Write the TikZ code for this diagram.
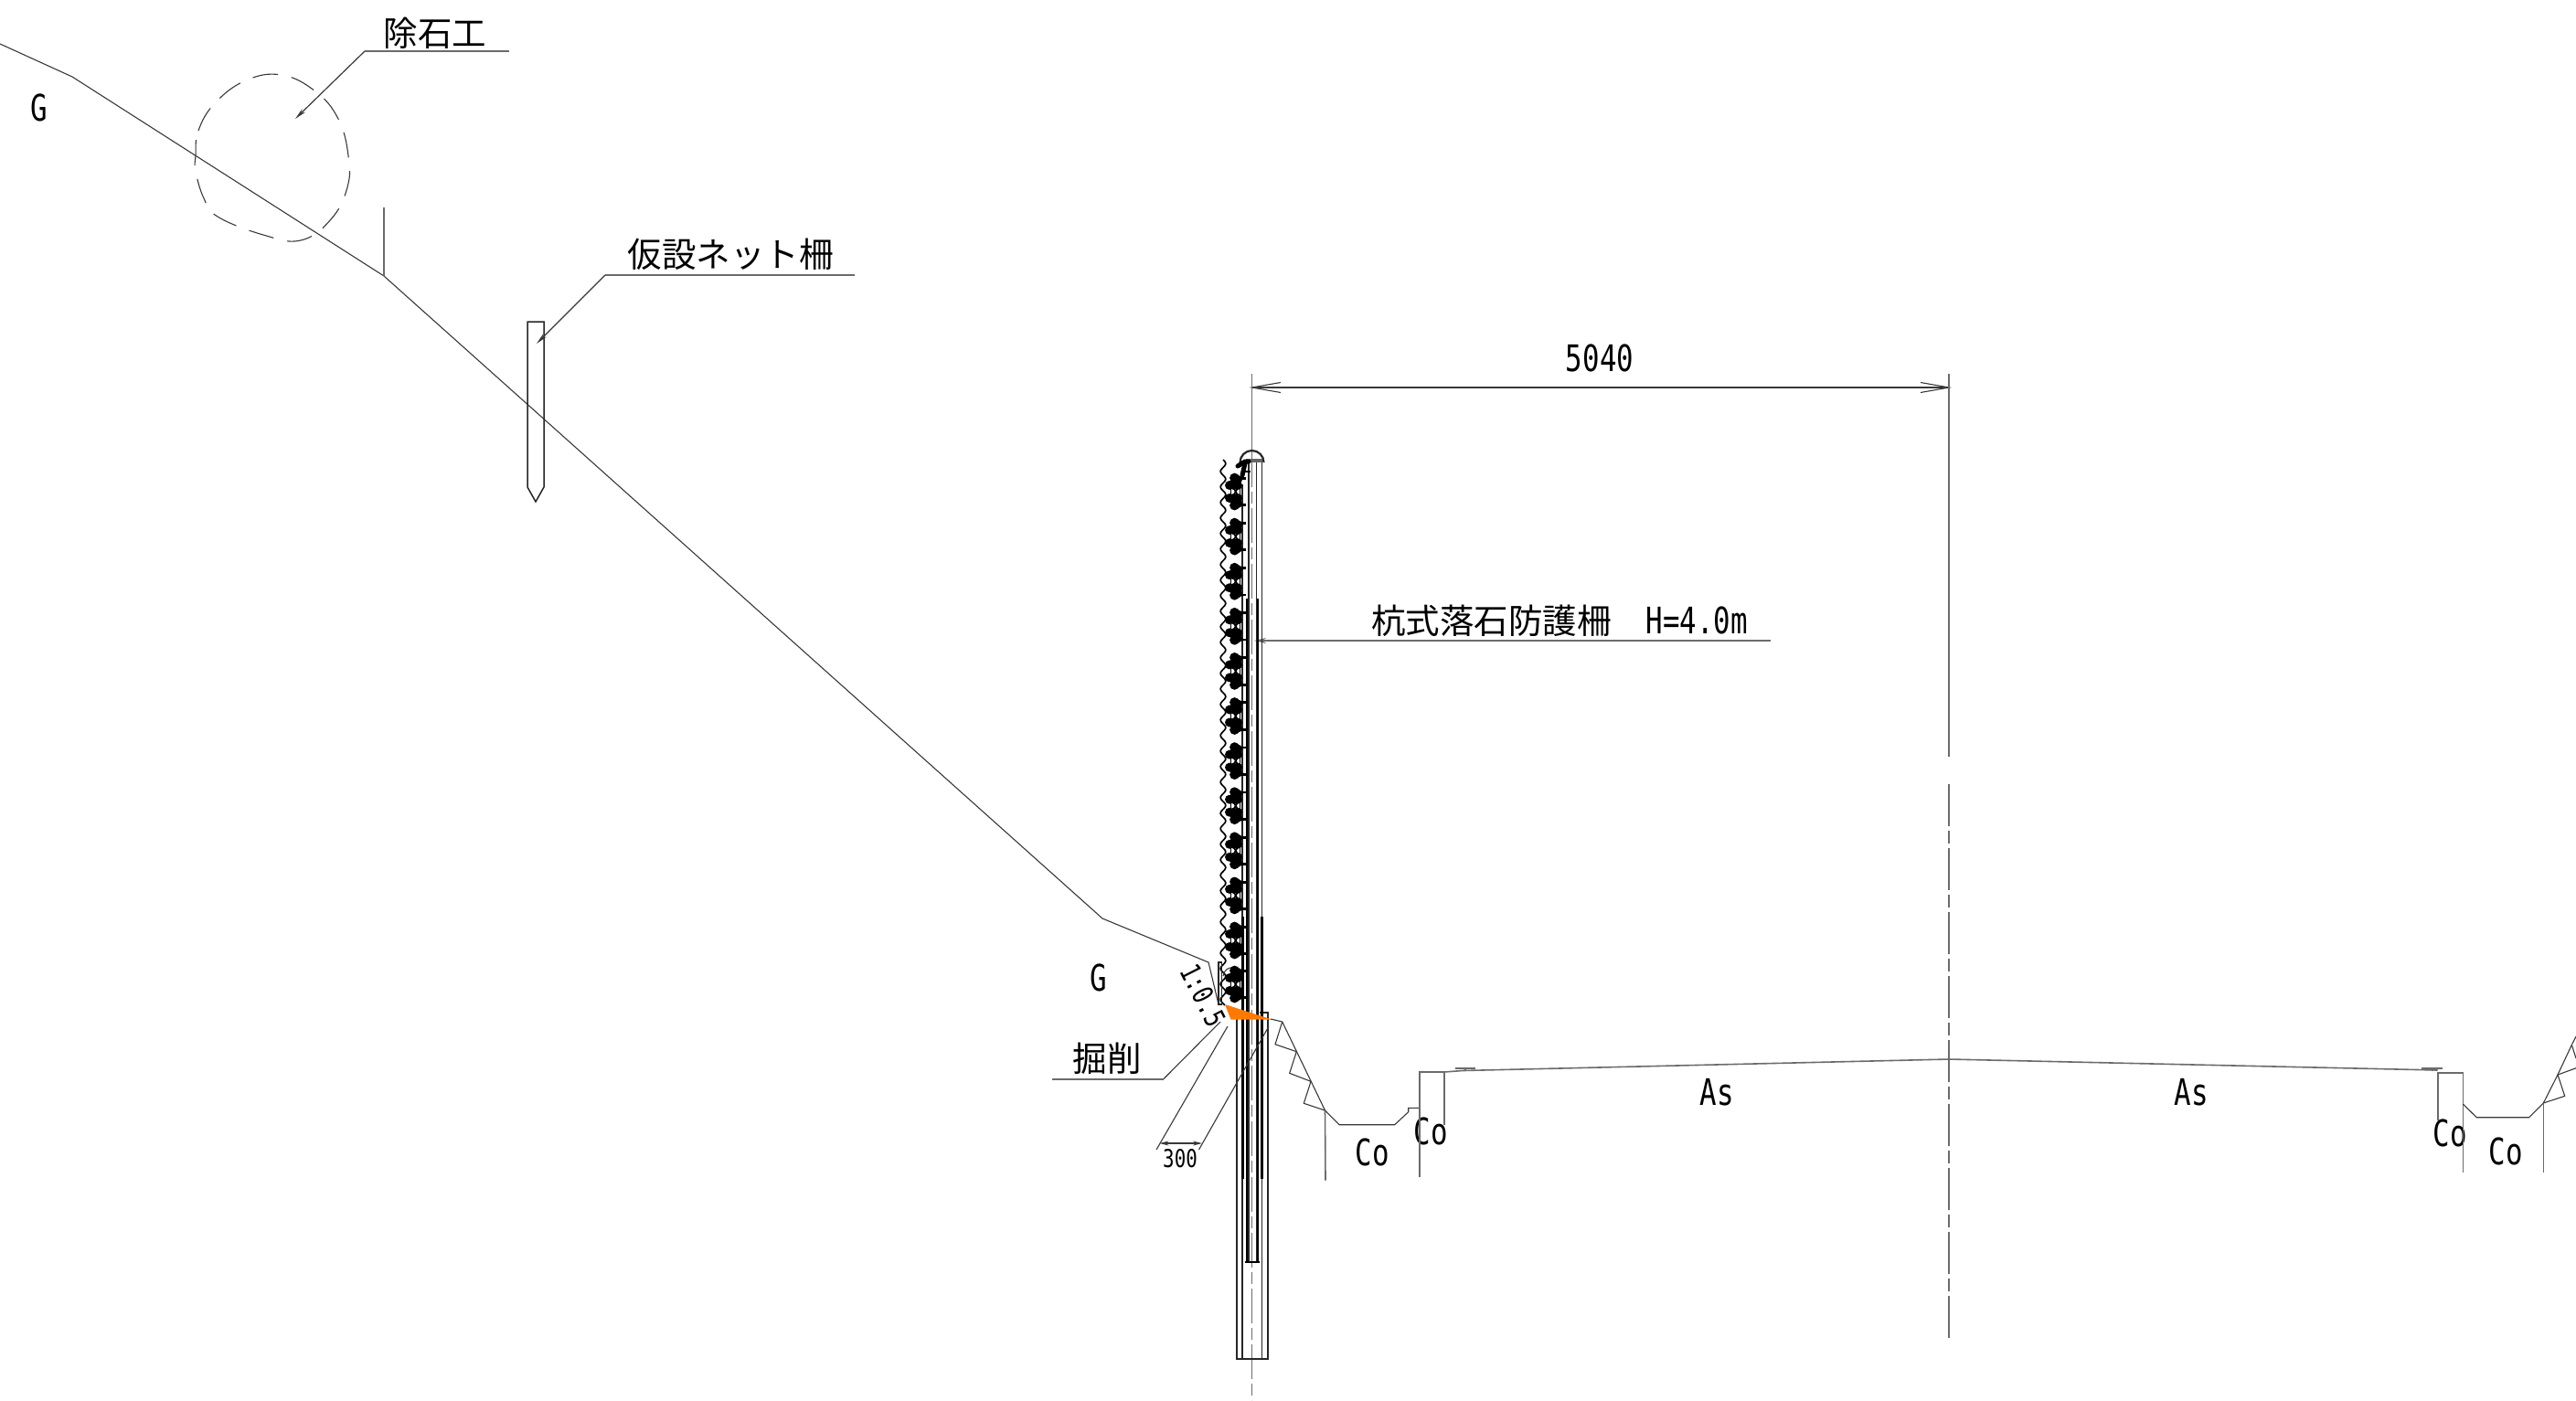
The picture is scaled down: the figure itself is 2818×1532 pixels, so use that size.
\documentclass[tikz,border=0pt]{standalone}
\usepackage{fontspec}
\usetikzlibrary{arrows.meta}
\newfontfamily\cjk{Noto Sans CJK JP}
\newfontfamily\lat[FakeStretch=0.77]{DejaVu Sans Mono}
\definecolor{lnk}{gray}{0.22}
\definecolor{lng}{gray}{0.42}
\tikzset{
  thin line/.style={draw=lnk,line width=1.1pt},
  mid line/.style={draw=black!85,line width=1.8pt},
  grey line/.style={draw=lng,line width=2pt},
  leader/.style={draw=lnk,line width=1.2pt,-{Stealth[length=13pt,width=5pt]}},
  center line/.style={draw=lng,line width=1.7pt,dash pattern=on 46pt off 5pt on 14pt off 5pt},
  jp/.style={inner sep=0pt,font=\cjk\fontsize{37.5}{37.5}\selectfont,text=black},
  la/.style={inner sep=0pt,font=\lat\fontsize{40}{40}\selectfont,text=black},
  dimsmall/.style={inner sep=0pt,font=\lat\fontsize{27}{27}\selectfont,text=black},
  blob/.style={fill=black,draw=none},
  heavy/.style={draw=black,line width=3pt}
}
\begin{document}
\begin{tikzpicture}[x=1pt,y=-1pt]
\useasboundingbox (0,0) rectangle (2818,1532);
% ---- named points
\coordinate (g0) at (0,48);
\coordinate (g1) at (79,84);
\coordinate (g2) at (420,302);
\coordinate (g3) at (1206,1005);
\coordinate (g4) at (1322,1053);
\coordinate (g5) at (1333,1099);
% ground
\draw[thin line] (g0) -- (g1) -- (g2) -- (g3) -- (g4) -- (g5);
\draw[grey line] (g2) -- (420,227);
% rock removal outline
\draw[thin line,dash pattern=on 28pt off 15pt] plot[smooth cycle,tension=0.7] coordinates {
 (214,170) (217,143) (235,113) (269,88) (308,82) (345,100) (370,130) (381,170)
 (380,205) (362,240) (329,263) (288,257) (238,237) (223,217) (214,187)};
% temporary post
\draw[mid line,line join=miter,line width=1.5pt] (577,352) -- (595,352) -- (595,533) -- (586,549) -- (577,533) -- cycle;
% labels and leaders
\node[jp] (t1) at (476,36) {除石工};
\coordinate (l1a) at (399,56); \coordinate (l1b) at (557,56); \coordinate (l1c) at (323,130);
\draw[grey line] (l1b) -- (l1a);
\draw[leader] (l1a) -- (l1c);
\node[jp] (t2) at (799,278) {仮設ネット柵};
\coordinate (l2a) at (662,301); \coordinate (l2b) at (935,301); \coordinate (l2c) at (587,376);
\draw[grey line] (l2b) -- (l2a);
\draw[leader] (l2a) -- (l2c);
\node[jp,anchor=west] (t3) at (1500,679) {杭式落石防護柵\hspace{38pt}{\lat\fontsize{40}{40}\selectfont H=4.0m}};
\coordinate (l3a) at (1937,701); \coordinate (l3b) at (1372,701);
\draw[grey line,-{Stealth[length=13pt,width=6pt]}] (l3a) -- (l3b);
\node[jp] (t4) at (1211,1158) {掘削};
\coordinate (l4a) at (1151,1180.5); \coordinate (l4b) at (1273,1180.5); \coordinate (l4c) at (1335,1118);
\draw[grey line] (l4a) -- (l4b);
\draw[thin line] (l4b) -- (l4c);
\node[la] (tg1) at (43,118) {G};
\node[la] (tg2) at (1202,1070) {G};
\node[la,rotate=-63,font=\lat\fontsize{31}{31}\selectfont] (tr) at (1316,1089) {1:0.5};
\node[la] (ta1) at (1878,1195) {As};
\node[la] (ta2) at (2397,1195) {As};
\node[la] (tc1) at (1501,1261) {Co};
\node[la] (tc2) at (1565,1238) {Co};
\node[la] (tc3) at (2680,1240) {Co};
\node[la] (tc4) at (2741,1260) {Co};
% dimension 5040
\node[la] (t5040) at (1750,392) {5040};
\coordinate (dl) at (1369.5,424); \coordinate (dr) at (2132,424);
\draw[thin line] (dl) -- (dr);
\draw[thin line] (1401,418.5) -- (dl) -- (1401,429.5);
\draw[thin line] (2101,418.5) -- (dr) -- (2101,429.5);
% road centre line
\draw[grey line,line width=1.5pt] (2132,409) -- (2132,828);
\draw[center line] (2132,858) -- (2132,1467);
% pole: centre line
\draw[grey line,line width=1.5pt] (1369.5,409) -- (1369.5,495);
\draw[center line,dash pattern=on 38pt off 5pt on 13pt off 5pt] (1369.5,495) -- (1369.5,1532);
% pole: casing and foundation
\draw[mid line] (1353,1115) -- (1353,1487) -- (1387,1487) -- (1387,1108) -- (1378,1108);
\draw[mid line] (1359.3,1487) -- (1359.3,530);
\draw[mid line] (1380.5,1487) -- (1380.5,505);
\draw[mid line] (1366,505) -- (1366,1381);
\draw[mid line] (1374.4,505) -- (1374.4,1381);
\draw[heavy,line width=2.6pt] (1364,655) -- (1364,1381) -- (1376,1381) -- (1376,655);
\draw[heavy,line width=2pt] (1362,1381) -- (1378,1381);
\draw[heavy,line width=2.4pt] (1359.3,1003) -- (1359.3,1290);
\draw[heavy] (1380.8,1003) -- (1380.8,1290);
% head
\draw[mid line,line width=2.2pt] (1356.5,506) arc[start angle=180,end angle=360,radius=13];
\draw[heavy,draw=black!60,line width=3.5pt] (1363,504) -- (1381,504);
\draw[black,line width=5pt,line cap=round] (1354,510) -- (1362,505) -- (1366,505);
\draw[black,line width=5pt,line cap=round] (1362,507) -- (1359,520);
\draw[black,line width=2.5pt] (1359,516) -- (1368,516);
% wire mesh
\draw[black,line width=1.7pt] plot[domain=0:597,samples=400,smooth] ({1338+2.8*sin(\x*21.176)},{503+\x});
\draw[thin line] (1338,1068) arc[start angle=190,end angle=370,x radius=9,y radius=11];
\draw[mid line,line width=1.1pt] (1333,1053) rectangle (1336.5,1099);
\foreach \c in {538,587.1,636.2,685.3,734.4,783.5,832.6,881.7,930.8,979.9,1029,1077}{
  \begin{scope}[shift={(1350.5,\c)}]
    \foreach \p/\r in {0/-15,0/-10,0/15,0/10,3/-13,3/13}{\fill[blob] (\p,\r) circle[radius=5.4];}
    \foreach \p/\r in {-5.5/-7,-5.5/7,-1/-7,-1/7,3.5/-7,3.5/7}{\fill[blob] (\p,\r) circle[radius=5];}
    \draw[black,line width=2.8pt] (0,-14.7) -- (12,-14.7) (0,14.7) -- (12,14.7);
    \draw[black,line width=1.8pt] (-1.5,-5) -- (4,5) (4,-5) -- (-1.5,5);
    \draw[black,line width=1.8pt] (-4,-5) -- (-4,5) (6,-14) -- (6,14);
  \end{scope}
}
% excavation wedge
\fill[orange!95!red] (1340,1099) -- (1346.5,1115.5) -- (1391,1115.5) -- cycle;
% small 300 dimension
\coordinate (e1a) at (1265,1258); \coordinate (e1b) at (1343,1123);
\coordinate (e2a) at (1311.5,1258); \coordinate (e2b) at (1388,1123);
\draw[thin line] (e1a) -- (e1b);
\draw[thin line] (e2a) -- (e2b);
\draw[thin line,{Stealth[length=10pt,width=5pt]}-{Stealth[length=10pt,width=5pt]}] (1268.5,1251) -- (1315,1251);
\node[dimsmall] (t300) at (1291,1268) {300};
% left ditch and slope
\coordinate (s0) at (1390,1115); \coordinate (s1) at (1402.7,1118);
\coordinate (s2) at (1418.3,1150.7); \coordinate (s3) at (1434,1183.3); \coordinate (s4) at (1449.5,1215);
\draw[thin line] (s0) -- (s1) -- (s4) -- (1465,1230.7) -- (1525.7,1230.7) -- (1540.7,1216.7) -- (1540.7,1212.3) -- (1552.7,1212.3);
\draw[thin line] (s1) -- (1395,1142.7) -- (s2) -- (1410.7,1174.3) -- (s3) -- (1426.3,1207.3) -- (s4);
\draw[grey line,line width=1.6pt] (s4) -- (1450,1291.5);
\draw[grey line,line width=1.6pt] (1552.7,1288) -- (1552.7,1173) -- (1580,1173) -- (1580,1231);
% pavement
\coordinate (crown) at (2132,1159);
\draw[grey line,line width=1.6pt] (1580,1173) -- (1600,1171.5) -- (crown) -- (2666.7,1171);
\draw[grey line,line width=2.4pt] (1592,1169) -- (1614,1169);
\draw[grey line,line width=2.4pt] (2649,1169) -- (2672,1169);
\draw[grey line,line width=1.5pt] (1603,1169) -- (1603,1172);
\draw[grey line,line width=1.5pt] (2661,1169) -- (2661,1172);
% right ditch and slope
\coordinate (r0) at (2782.3,1207); \coordinate (r1) at (2798,1176); \coordinate (r2) at (2813.3,1143.3);
\draw[grey line,line width=1.6pt] (2666.7,1226) -- (2666.7,1174) -- (2694.3,1174) -- (2694.3,1283);
\draw[thin line] (2694.3,1208) -- (2709.3,1222.7) -- (2766.7,1222.7) -- (r0) -- (r1) -- (r2) -- (2818,1134);
\draw[grey line,line width=1.6pt] (r0) -- (2782.3,1283);
\draw[thin line] (r0) -- (2805.7,1199.3) -- (r1) -- (2818,1168.7);
\draw[thin line] (r2) -- (2818,1158);
\end{tikzpicture}
\end{document}
